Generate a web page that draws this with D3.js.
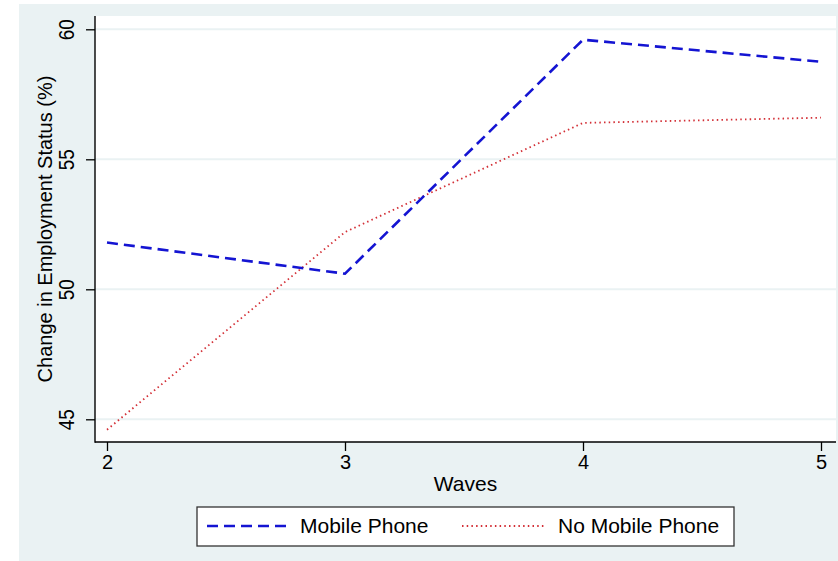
<!DOCTYPE html>
<html>
<head>
<meta charset="utf-8">
<script src="https://cdn.jsdelivr.net/npm/d3@7"></script>
<style>
  html, body { margin: 0; padding: 0; background: #ffffff; }
  svg { display: block; font-family: "Liberation Sans", Arial, sans-serif; }
</style>
</head>
<body>
<svg id="chart" width="838" height="561"></svg>
<script>
// ---- data ----
const waves = [2, 3, 4, 5];
const mobilePhone = [51.8, 50.6, 59.6, 58.75];
const noMobilePhone = [44.6, 52.2, 56.4, 56.6];
const yTicks = [45, 50, 55, 60];
const seriesNames = ["Mobile Phone", "No Mobile Phone"];

const svg = d3.select("#chart");
const W = 838, H = 561;

// outer graph region
svg.append("rect").attr("x", 19).attr("y", 4).attr("width", W - 19).attr("height", H - 4)
  .attr("fill", "#eaf2f3");

const plot = { left: 95, top: 16, right: 836, bottom: 442 };

// plot region
svg.append("rect").attr("x", plot.left).attr("y", plot.top)
  .attr("width", plot.right - plot.left).attr("height", plot.bottom - plot.top)
  .attr("fill", "#ffffff");

const x = d3.scaleLinear().domain([2, 5]).range([107, 821]);
const y = d3.scaleLinear().domain([45, 60]).range([419.3, 29.3]);

// gridlines
svg.append("g").selectAll("line").data(yTicks).join("line")
  .attr("x1", plot.left).attr("x2", plot.right)
  .attr("y1", d => y(d)).attr("y2", d => y(d))
  .attr("stroke", "#eaf2f3").attr("stroke-width", 2);

// lines
const line = d3.line().x((d, i) => x(waves[i])).y(d => y(d));

svg.append("path").datum(noMobilePhone)
  .attr("d", line).attr("fill", "none")
  .attr("stroke", "#d32f36").attr("stroke-width", 1.8)
  .attr("stroke-dasharray", "1.5,3.2");

svg.append("path").datum(mobilePhone)
  .attr("d", line).attr("fill", "none")
  .attr("stroke", "#1414d2").attr("stroke-width", 2.6)
  .attr("stroke-dasharray", "11,6");

// axes
const yAxis = d3.axisLeft(y).tickValues(yTicks).tickSize(9).tickPadding(8).tickFormat(d3.format("d"));
const gy = svg.append("g").attr("transform", `translate(${plot.left},0)`).call(yAxis);
gy.select(".domain").remove();
gy.selectAll(".tick line").attr("stroke", "#000").attr("stroke-width", 1.3);
gy.selectAll(".tick text")
  .attr("font-size", 19).attr("fill", "#000")
  .attr("font-family", '"Liberation Sans", Arial, sans-serif')
  .attr("text-anchor", "middle")
  .attr("x", 0).attr("y", -18).attr("dy", 0)
  .attr("transform", "rotate(-90) scale(1,1.15)");

const xAxis = d3.axisBottom(x).tickValues(waves).tickSize(9).tickPadding(4).tickFormat(d3.format("d"));
const gx = svg.append("g").attr("transform", `translate(0,${plot.bottom})`).call(xAxis);
gx.select(".domain").remove();
gx.selectAll(".tick line").attr("stroke", "#000").attr("stroke-width", 1.3);
gx.selectAll(".tick text").attr("font-size", 20).attr("fill", "#000")
  .attr("font-family", '"Liberation Sans", Arial, sans-serif');

// axis lines
svg.append("line").attr("x1", plot.left).attr("x2", plot.left)
  .attr("y1", plot.top).attr("y2", plot.bottom + 0.7)
  .attr("stroke", "#000").attr("stroke-width", 1.4);
svg.append("line").attr("x1", plot.left).attr("x2", plot.right)
  .attr("y1", plot.bottom).attr("y2", plot.bottom)
  .attr("stroke", "#000").attr("stroke-width", 1.4);

// axis titles
svg.append("text").attr("x", (plot.left + plot.right) / 2).attr("y", 491)
  .attr("text-anchor", "middle").attr("font-size", 21).attr("fill", "#000")
  .text("Waves");
svg.append("text")
  .attr("transform", `translate(52,${(plot.top + plot.bottom) / 2}) rotate(-90)`)
  .attr("text-anchor", "middle").attr("font-size", 20).attr("fill", "#000")
  .text("Change in Employment Status (%)");

// legend
const lg = svg.append("g");
lg.append("rect").attr("x", 197).attr("y", 507).attr("width", 537).attr("height", 39)
  .attr("fill", "#fff").attr("stroke", "#333").attr("stroke-width", 1.3);
const legendItems = [
  { name: seriesNames[0], x0: 207, x1: 288, tx: 300, color: "#1414d2", w: 2.6, dash: "11,6" },
  { name: seriesNames[1], x0: 462, x1: 546, tx: 558, color: "#d32f36", w: 1.8, dash: "1.5,3.2" }
];
legendItems.forEach(it => {
  lg.append("line").attr("x1", it.x0).attr("x2", it.x1).attr("y1", 526).attr("y2", 526)
    .attr("stroke", it.color).attr("stroke-width", it.w).attr("stroke-dasharray", it.dash);
  lg.append("text").attr("x", it.tx).attr("y", 533).attr("font-size", 21).attr("fill", "#000")
    .text(it.name);
});
</script>
</body>
</html>
